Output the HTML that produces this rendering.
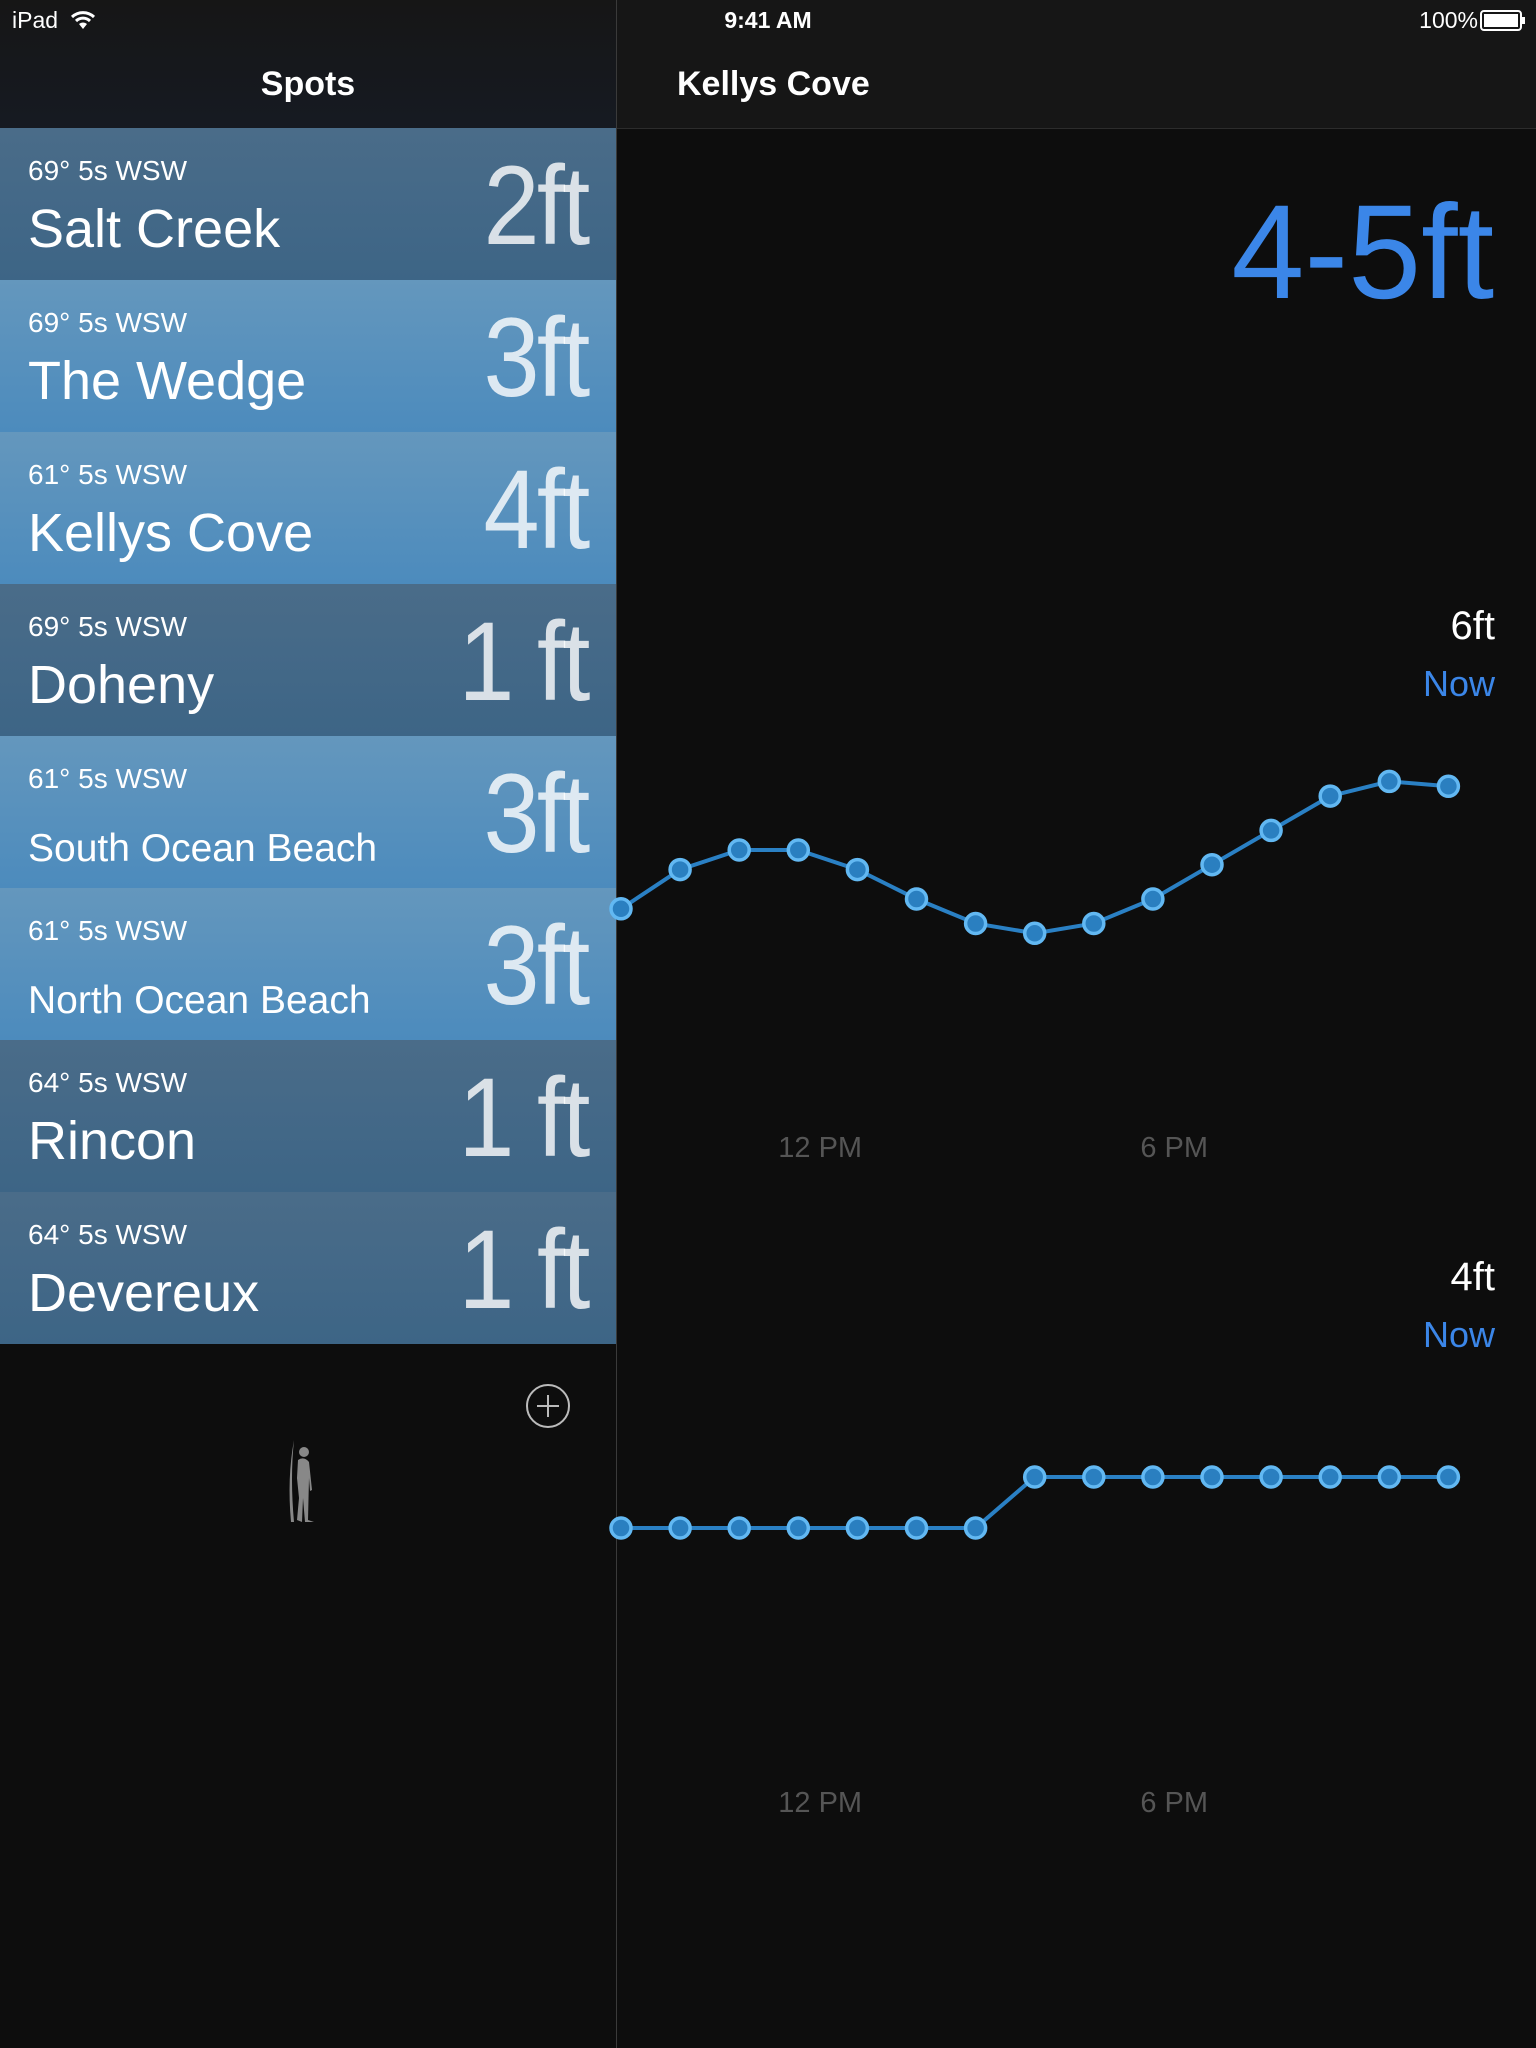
<!DOCTYPE html>
<html><head><meta charset="utf-8">
<style>
html,body{margin:0;padding:0;width:1536px;height:2048px;overflow:hidden;background:#0d0d0d;font-family:"Liberation Sans",sans-serif;color:#fff}
#left{position:absolute;left:0;top:0;width:616px;height:2048px;background:#0d0d0d}
#right{position:absolute;left:617px;top:0;width:919px;height:2048px;background:#0d0d0d}
#divider{position:absolute;left:616px;top:0;width:1px;height:2048px;background:#3a3a3a}
.status{position:absolute;top:0;height:40px;font-size:23px;line-height:40px}
#lnav{position:absolute;left:0;top:0;width:616px;height:128px;background:linear-gradient(#161616,#161a22)}
#rnav{position:absolute;left:0;top:0;width:919px;height:128px;background:#161616;border-bottom:1px solid #2c2c2c}
.navtitle{position:absolute;top:62px;font-size:34px;font-weight:bold;line-height:44px}
.row{position:absolute;left:0;width:616px;height:152px}
.dark{background:linear-gradient(#4a6c89,#3d6586)}
.light{background:linear-gradient(#6497bd,#4c8bbd)}
.meta{position:absolute;left:28px;top:26px;font-size:28px;line-height:34px}
.name{position:absolute;left:28px;top:68px;font-size:54px;line-height:66px}
.name.small{font-size:39px;top:80px}
.big{position:absolute;right:28px;top:18px;font-size:112px;line-height:120px;font-weight:normal;letter-spacing:-3px;color:rgba(255,255,255,0.8);transform:scaleX(0.9);transform-origin:right}
</style></head><body>
<div id="left">
  <div id="lnav">
    <div class="status" style="left:12px">iPad</div>
    <svg style="position:absolute;left:70px;top:9px" width="26" height="22">
      <path d="M2 8 A16 16 0 0 1 24 8" stroke="#fff" stroke-width="3" fill="none"/>
      <path d="M6 12 A10 10 0 0 1 20 12" stroke="#fff" stroke-width="3" fill="none"/>
      <path d="M13 20 L9 15 A6 6 0 0 1 17 15 Z" fill="#fff"/>
    </svg>
    <div class="navtitle" style="left:0;width:616px;text-align:center">Spots</div>
  </div>
  <div class="row dark" style="top:128px"><div class="meta">69° 5s WSW</div><div class="name">Salt Creek</div><div class="big">2ft</div></div>
  <div class="row light" style="top:280px"><div class="meta">69° 5s WSW</div><div class="name">The Wedge</div><div class="big">3ft</div></div>
  <div class="row light" style="top:432px"><div class="meta">61° 5s WSW</div><div class="name">Kellys Cove</div><div class="big">4ft</div></div>
  <div class="row dark" style="top:584px"><div class="meta">69° 5s WSW</div><div class="name">Doheny</div><div class="big">1 ft</div></div>
  <div class="row light" style="top:736px"><div class="meta">61° 5s WSW</div><div class="name small">South Ocean Beach</div><div class="big">3ft</div></div>
  <div class="row light" style="top:888px"><div class="meta">61° 5s WSW</div><div class="name small">North Ocean Beach</div><div class="big">3ft</div></div>
  <div class="row dark" style="top:1040px"><div class="meta">64° 5s WSW</div><div class="name">Rincon</div><div class="big">1 ft</div></div>
  <div class="row dark" style="top:1192px"><div class="meta">64° 5s WSW</div><div class="name">Devereux</div><div class="big">1 ft</div></div>
  <svg style="position:absolute;left:525px;top:1383px" width="46" height="46">
    <circle cx="23" cy="23" r="21" stroke="#bbb" stroke-width="2" fill="none"/>
    <path d="M23 12 V34 M12 23 H34" stroke="#bbb" stroke-width="2"/>
  </svg>
  <svg style="position:absolute;left:285px;top:1438px" width="36" height="88">
    <path d="M9 2 Q2 40 6 84 L9 84 Q5 40 9 2 Z" fill="#888"/>
    <circle cx="19" cy="14" r="5" fill="#888"/>
    <path d="M13 22 Q19 18 24 24 L27 52 L25 53 L24 40 L23 82 L29 84 L20 84 L18 60 L17 84 L12 82 L14 60 L12 40 Z" fill="#888"/>
  </svg>
</div>
<div id="divider"></div>
<div id="right">
  <div id="rnav">
    <div class="status" style="left:-617px;width:1536px;text-align:center;font-weight:bold;font-size:23px;">9:41 AM</div>
    <div class="status" style="right:58px">100%</div>
    <svg style="position:absolute;right:10px;top:10px" width="46" height="22">
      <rect x="1" y="1" width="40" height="19" rx="3" stroke="#fff" stroke-width="2" fill="none"/>
      <rect x="4" y="4" width="34" height="13" fill="#fff"/>
      <rect x="42" y="7" width="3" height="7" fill="#fff"/>
    </svg>
    <div class="navtitle" style="left:60px">Kellys Cove</div>
  </div>
  <div style="position:absolute;right:42px;top:178px;font-size:134px;line-height:150px;color:#3b86e8;letter-spacing:0px;transform:scaleX(0.98);transform-origin:right">4-5ft</div>
  <svg id="chart" style="position:absolute;left:-617px;top:0" width="1536" height="2048"></svg>
</div>
<script>
const hours1 = [0,1,2,3,4,5,6,7,8,9,10,11,12,13,14];
const swell1 = [2.6,3.0,3.2,3.2,3.0,2.7,2.45,2.35,2.45,2.7,3.05,3.4,3.75,3.9,3.85];
const hours2 = [0,1,2,3,4,5,6,7,8,9,10,11,12,13,14];
const swell2 = [3,3,3,3,3,3,3,3.5,3.5,3.5,3.5,3.5,3.5,3.5,3.5];
const tickHours = [3.37,9.36];
const tickLabels = ["12 PM","6 PM"];
const chart1Max = "6ft";
const chart2Max = "4ft";

const NS = "http://www.w3.org/2000/svg";
const svg = document.getElementById('chart');
const xScale = h => 621 + h * 59.1;
const y1 = v => 850 + (3.2 - v) * 98;
const y2 = v => 1528 - (v - 3) * 102;

function mk(tag, attrs){const e=document.createElementNS(NS,tag);for(const k in attrs)e.setAttribute(k,attrs[k]);svg.appendChild(e);return e;}

function drawChart(hours, vals, ys, idx, maxLabel, labelY, tickY){
  const pts = hours.map((h,i)=>xScale(h)+','+ys(vals[i])).join(' ');
  const line = mk('polyline',{points:pts,fill:'none',stroke:'#2a80c4','stroke-width':4});
  
  
  hours.forEach((h,i)=>{
    const c = mk('circle',{cx:xScale(h),cy:ys(vals[i]),r:10,fill:'#2a7fc0',stroke:'#62b8f2','stroke-width':3.5});
    
    
  });
  const t = mk('text',{x:1495,y:labelY,'text-anchor':'end','font-size':40,fill:'#fff','font-family':'Liberation Sans'});
  t.textContent = maxLabel;
  
  
  const n = mk('text',{x:1495,y:labelY+57,'text-anchor':'end','font-size':36,fill:'#3b86e8','font-family':'Liberation Sans'});
  n.textContent = 'Now';
  
  
  tickHours.forEach((h,i)=>{
    const tl = mk('text',{x:xScale(h),y:tickY,'text-anchor':'middle','font-size':29,fill:'#555','font-family':'Liberation Sans'});
    tl.textContent = tickLabels[i];
    
    
  });
}
drawChart(hours1, swell1, y1, 1, chart1Max, 639, 1157);
drawChart(hours2, swell2, y2, 2, chart2Max, 1290, 1812);
</script>
</body></html>
